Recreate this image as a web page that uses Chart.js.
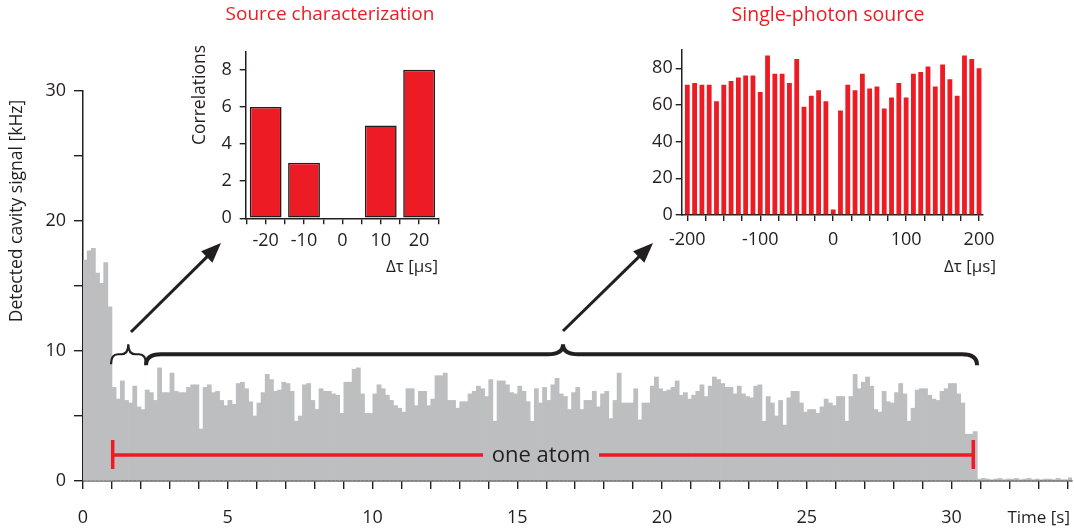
<!DOCTYPE html>
<html>
<head>
<meta charset="utf-8">
<script src="https://cdn.jsdelivr.net/npm/chart.js@4/dist/chart.umd.min.js"></script>
<style>
  html, body { margin: 0; padding: 0; background: #ffffff; }
  #wrap { position: relative; width: 1074px; height: 529px; overflow: hidden; }
  #wrap canvas { position: absolute; top: 0; }
</style>
</head>
<body>
<div id="wrap">
  <canvas id="main" width="1074" height="529" style="left:0;width:1074px;height:529px"></canvas>
  <canvas id="inset1" width="300" height="290" style="left:150px;width:300px;height:290px"></canvas>
  <canvas id="inset2" width="400" height="290" style="left:600px;width:400px;height:290px"></canvas>
</div>
<script>
// ---- main trace: detected cavity signal (kHz), one value per time bin ----
const binStart = 0;      // s, first bin edge
const binWidth = 0.143;  // s
const signal = [
  17.0, 17.7, 17.9, 16.0, 15.2, 16.8, 13.4,
  7.2, 6.3, 7.7, 6.2, 6.0, 7.3, 5.7, 5.5, 7.0, 6.8, 6.2, 8.7, 6.8, 6.8, 8.3, 6.9, 6.8, 6.8, 7.2, 7.4, 7.4,
  4.0, 7.2, 7.4, 6.8, 6.9, 6.2, 5.8, 6.2, 5.9, 7.5, 7.6, 7.1, 6.1, 5.0, 6.0, 6.8, 8.2, 7.8, 6.9, 7.0,
  7.6, 7.5, 6.9, 4.6, 5.0, 7.4, 7.5, 6.2, 5.5, 7.1, 6.9, 6.9, 6.7, 6.6, 5.2, 7.6, 7.6, 8.6, 8.7, 6.7,
  5.2, 5.2, 6.7, 7.4, 7.1, 6.6, 6.2, 5.8, 5.6, 5.3, 7.1, 7.1, 5.8, 6.9, 6.9, 5.8, 6.3, 8.1, 8.1, 8.3,
  6.2, 6.2, 5.6, 6.1, 6.1, 6.7, 6.9,
  7.3, 7.1, 6.5, 7.8, 4.6, 7.7, 7.7, 7.4, 6.8, 6.7, 7.3, 6.9, 6.1, 4.6, 7.1, 6.0, 7.2, 6.2, 7.4, 7.9,
  6.7, 6.5, 5.5, 6.8, 7.2, 5.5, 6.2, 6.2, 6.9, 5.7, 6.7, 6.9, 4.8, 6.2, 8.3, 6.0, 6.0, 6.0, 7.1, 4.7,
  6.0, 6.0, 7.3, 8.0, 7.1, 6.9, 7.0,
  7.2, 7.7, 6.6, 6.8, 6.3, 6.6, 6.9, 7.4, 6.5, 7.3, 8.0, 7.8, 7.5, 7.2, 7.2, 6.7, 7.3, 6.7, 6.5, 6.4,
  7.3, 7.4, 4.6, 6.5, 6.0, 5.0, 6.2, 4.3, 6.4, 6.9, 6.9, 6.0, 5.3, 5.5, 5.5, 5.2, 5.7, 6.3, 6.0, 5.8,
  6.5, 6.5, 4.6, 6.5, 8.2, 7.1, 7.6,
  8.0, 7.3, 5.5, 5.3, 6.9, 6.1, 6.0, 6.8, 7.5, 6.7, 4.6, 5.6, 7.0, 7.1, 7.1, 6.6, 6.3, 6.2, 6.9, 7.1,
  7.5, 7.5, 6.7, 6.0, 3.6, 3.6, 3.8,
  0.15, 0.2, 0.15, 0.1, 0.15, 0.2, 0.1, 0.15, 0.15, 0.2, 0.1, 0.15, 0.2, 0.1, 0.15, 0.1, 0.15, 0.15,
  0.1, 0.2, 0.1, 0.1, 0.25
];
const timeRange = [0, 34.16];             // s, visible time window
const signalRange = [0, 30];              // kHz
const atomSpan = [1.026, 30.75];          // s, interval with one atom trapped

// ---- inset: source characterization ----
const lagShort = [-20, -10, 0, 10, 20];   // µs
const corrShort = [6, 3, 0, 5, 8];

// ---- inset: single-photon source ----
const lagLong = [-200, -190, -180, -170, -160, -150, -140, -130, -120, -110, -100, -90, -80, -70, -60,
  -50, -40, -30, -20, -10, 0, 10, 20, 30, 40, 50, 60, 70, 80, 90, 100, 110, 120, 130, 140, 150, 160,
  170, 180, 190, 200];
const corrLong = [71, 72, 71, 71, 62, 71, 73, 75, 76, 76, 67, 87, 77, 77, 72, 85, 59, 65, 68, 62, 3,
  57, 71, 68, 77, 69, 70, 58, 64, 72, 64, 77, 78, 81, 70, 82, 74, 65, 87, 85, 80];

const INK = '#231F20';
const RED = '#ED1C24';
const GREY = '#BCBEC0';
const FONT = "'Open Sans', 'DejaVu Sans', sans-serif";

Chart.defaults.font.family = FONT;
Chart.defaults.color = INK;

function axisStyle(tickLen) {
  return {
    grid: { display: true, drawOnChartArea: false, drawTicks: true, tickLength: tickLen,
            color: INK, tickColor: INK, lineWidth: 1.4, tickWidth: 1.4, offset: false },
    border: { display: true, color: INK, width: 1.5 }
  };
}

function text(ctx, str, x, y, size, color, align, rot) {
  ctx.save();
  ctx.translate(x, y);
  if (rot) ctx.rotate(rot);
  ctx.font = size + 'px ' + FONT;
  ctx.fillStyle = color;
  ctx.textAlign = align || 'center';
  ctx.textBaseline = 'middle';
  ctx.fillText(str, 0, 0);
  ctx.restore();
}

// curly brace opening upward: ends at xa/xb, cusp at xc
function brace(ctx, xa, xb, xc, yLine, drop, rise, r) {
  ctx.beginPath();
  ctx.moveTo(xa, yLine + drop);
  ctx.quadraticCurveTo(xa, yLine, xa + r, yLine);
  ctx.lineTo(xc - r, yLine);
  ctx.quadraticCurveTo(xc, yLine, xc, yLine - rise);
  ctx.quadraticCurveTo(xc, yLine, xc + r, yLine);
  ctx.lineTo(xb - r, yLine);
  ctx.quadraticCurveTo(xb, yLine, xb, yLine + drop);
  ctx.stroke();
}

function arrow(ctx, x0, y0, x1, y1) {
  const a = Math.atan2(y1 - y0, x1 - x0);
  const head = 20, half = 8;
  const bx = x1 - head * Math.cos(a), by = y1 - head * Math.sin(a);
  ctx.beginPath();
  ctx.moveTo(x0, y0);
  ctx.lineTo(bx + 2 * Math.cos(a), by + 2 * Math.sin(a));
  ctx.lineWidth = 3;
  ctx.strokeStyle = INK;
  ctx.stroke();
  ctx.beginPath();
  ctx.moveTo(x1, y1);
  ctx.lineTo(bx + half * Math.sin(a), by - half * Math.cos(a));
  ctx.lineTo(bx - half * Math.sin(a), by + half * Math.cos(a));
  ctx.closePath();
  ctx.fillStyle = INK;
  ctx.fill();
}

const decorations = {
  id: 'decorations',
  afterDraw(chart) {
    const { ctx, scales: { x, y } } = chart;
    ctx.save();

    // axis titles
    text(ctx, 'Detected cavity signal [kHz]', 17, 211, 17.5, INK, 'center', -Math.PI / 2);
    text(ctx, 'Time [s]', 1070, 518, 17, INK, 'right');

    // braces over the trapped-atom interval
    ctx.strokeStyle = INK;
    ctx.lineCap = 'butt';
    const yb = y.getPixelForValue(9.75);
    const x1 = x.getPixelForValue(0.967), x2 = x.getPixelForValue(2.176);
    const x3 = x.getPixelForValue(30.88);
    ctx.lineWidth = 2.2;
    brace(ctx, x1, x2, x.getPixelForValue(1.565), yb, 10, 10, 7);
    ctx.lineWidth = 4;
    brace(ctx, x2, x3, x.getPixelForValue(16.58), yb, 11, 10, 15);

    // arrows to the insets
    arrow(ctx, 131, 332, 221, 243);
    arrow(ctx, 563, 331, 653, 243);

    // "one atom" marker
    const ya = y.getPixelForValue(2.0);
    const xa0 = x.getPixelForValue(atomSpan[0]), xa1 = x.getPixelForValue(atomSpan[1]);
    const xt = x.getPixelForValue(15.82);
    ctx.strokeStyle = RED; ctx.lineWidth = 3.5;
    ctx.beginPath();
    ctx.moveTo(xa0, ya); ctx.lineTo(xt - 58, ya);
    ctx.moveTo(xt + 58, ya); ctx.lineTo(xa1, ya);
    ctx.moveTo(xa0, ya - 15); ctx.lineTo(xa0, ya + 14);
    ctx.moveTo(xa1, ya - 15); ctx.lineTo(xa1, ya + 14);
    ctx.stroke();
    text(ctx, 'one atom', xt, ya + 1, 22, INK, 'center');

    // inset titles and labels
    text(ctx, 'Source characterization', 330, 15, 19, RED, 'center');
    text(ctx, 'Single-photon source', 828, 15, 19.5, RED, 'center');
    text(ctx, 'Correlations', 200, 95, 17.5, INK, 'center', -Math.PI / 2);
    text(ctx, '\u0394\u03C4 [\u00B5s]', 438, 267, 17, INK, 'right');
    text(ctx, '\u0394\u03C4 [\u00B5s]', 996, 267, 17, INK, 'right');
    ctx.restore();
  }
};

// ---- main chart ----
new Chart(document.getElementById('main'), {
  type: 'bar',
  data: {
    datasets: [{
      data: signal.map((v, i) => ({ x: binStart + binWidth * (i + 0.5), y: v })),
      backgroundColor: GREY,
      borderWidth: 0,
      barPercentage: 1,
      categoryPercentage: 1
    }]
  },
  options: {
    responsive: false, animation: false, devicePixelRatio: 1,
    layout: { padding: { top: 91, right: 2, left: 0, bottom: 0 } },
    plugins: { legend: { display: false }, tooltip: { enabled: false } },
    scales: {
      x: Object.assign(axisStyle(8), {
        type: 'linear', min: timeRange[0], max: timeRange[1], offset: false,
        ticks: { stepSize: 1, autoSkip: false, maxRotation: 0, includeBounds: false, padding: 18,
                 font: { size: 18 }, color: INK,
                 callback: v => (v % 5 === 0 ? String(v) : '') },
        afterFit: s => { s.height = 48; s.paddingLeft = 0; s.paddingRight = 0; }
      }),
      y: Object.assign(axisStyle(9), {
        min: signalRange[0], max: signalRange[1],
        ticks: { stepSize: 5, padding: 8, font: { size: 18 }, color: INK,
                 callback: v => (v % 10 === 0 ? String(v) : '') },
        afterFit: s => { s.width = 83; }
      })
    }
  },
  plugins: [decorations]
});

// ---- inset: source characterization ----
// the bar ruler uses the 5 µs tick spacing, so 1.66 of it gives ~8.3 µs wide bars
new Chart(document.getElementById('inset1'), {
  type: 'bar',
  data: {
    datasets: [{
      data: lagShort.map((l, i) => ({ x: l, y: corrShort[i] })),
      backgroundColor: RED, borderColor: INK, borderWidth: 1.6, borderSkipped: false,
      barPercentage: 1.66, categoryPercentage: 1
    }]
  },
  options: {
    responsive: false, animation: false, devicePixelRatio: 1,
    layout: { padding: { top: 51.3, right: 11.7, left: 0, bottom: 0 } },
    plugins: { legend: { display: false }, tooltip: { enabled: false } },
    scales: {
      x: Object.assign(axisStyle(6), {
        type: 'linear', min: -25.2, max: 25, offset: false,
        ticks: { stepSize: 5, autoSkip: false, maxRotation: 0, includeBounds: false, padding: 6,
                 font: { size: 18 }, color: INK,
                 callback: v => (v % 10 === 0 ? String(v) : '') },
        afterFit: s => { s.height = 71.7; s.paddingLeft = 0; s.paddingRight = 0; }
      }),
      y: Object.assign(axisStyle(6), {
        min: 0, max: 9,
        ticks: { stepSize: 1, padding: 8, font: { size: 18 }, color: INK,
                 callback: v => (v % 2 === 0 ? String(v) : '') },
        afterFit: s => { s.width = 95.7; }
      })
    }
  }
});

// ---- inset: single-photon source ----
new Chart(document.getElementById('inset2'), {
  type: 'bar',
  data: {
    datasets: [{
      data: lagLong.map((l, i) => ({ x: l, y: corrLong[i] })),
      backgroundColor: RED, borderWidth: 0,
      barPercentage: 0.66, categoryPercentage: 1
    }]
  },
  options: {
    responsive: false, animation: false, devicePixelRatio: 1,
    layout: { padding: { top: 49.9, right: 17.3, left: 0, bottom: 0 } },
    plugins: { legend: { display: false }, tooltip: { enabled: false } },
    scales: {
      x: Object.assign(axisStyle(6), {
        type: 'linear', min: -207.7, max: 205, offset: false,
        ticks: { stepSize: 25, autoSkip: false, maxRotation: 0, includeBounds: false, padding: 8,
                 font: { size: 18 }, color: INK,
                 callback: v => (v % 100 === 0 ? String(v) : '') },
        afterFit: s => { s.height = 75; s.paddingLeft = 0; s.paddingRight = 0; }
      }),
      y: Object.assign(axisStyle(6), {
        min: 0, max: 90,
        ticks: { stepSize: 10, padding: 3, font: { size: 18 }, color: INK,
                 callback: v => (v % 20 === 0 ? String(v) : '') },
        afterFit: s => { s.width = 81.7; }
      })
    }
  }
});
</script>
</body>
</html>
